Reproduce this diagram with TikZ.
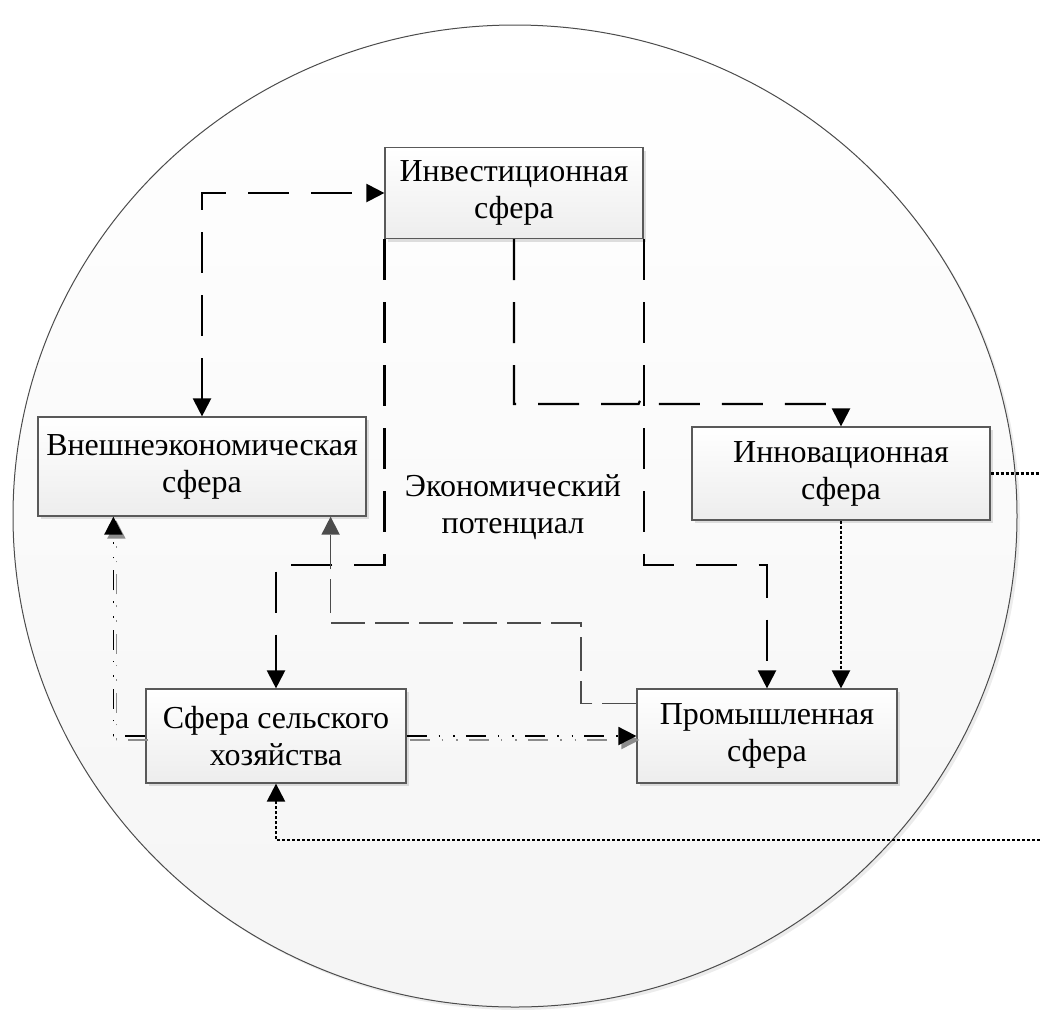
\documentclass[tikz,border=0pt]{standalone}
\usepackage{fontspec}
\setmainfont{Liberation Serif}
\usetikzlibrary{calc,shadows,arrows.meta}

\tikzset{
  >={Triangle[length=9pt,width=9pt]},
  sphere/.style={draw=black!65, line width=0.6pt, top color=white, bottom color=black!7,
    drop shadow={shadow xshift=1.5pt, shadow yshift=-1.5pt, fill=black!25, opacity=.5},
    align=center, inner sep=0pt, font=\fontsize{16}{18.5}\selectfont},
  bigdash/.style={line width=1.1pt, dash pattern=on 20.5pt off 11pt},
  greydash/.style={line width=0.8pt, draw=black!70, dash pattern=on 17pt off 5pt},
  dashdots/.style={line width=0.9pt, dash pattern=on 10pt off 6pt on 0.8pt off 6.5pt on 0.8pt off 5.5pt},
  dashshadow/.style={dashdots, draw=black!45, transform canvas={xshift=1.5pt,yshift=-2pt}},
  dotline/.style={line width=1.1pt, dash pattern=on 1.5pt off 1pt}
}

\begin{document}
\begin{tikzpicture}[x=0.5pt,y=-0.5pt]
    \useasboundingbox (0,0) rectangle (1040,1009);

    % potential
    \draw[draw=black!70, line width=0.5pt, top color=white, bottom color=black!4,
      drop shadow={shadow xshift=1.5pt,shadow yshift=-1.5pt,fill=black!15,opacity=.5}]
      (515,516) ellipse [x radius=251pt, y radius=245.5pt];
    \node[align=center, font=\fontsize{16}{18.5}\selectfont] (econ) at (513,507) {Экономический\\потенциал};

    % spheres
    \node[sphere, minimum width=129pt, minimum height=45.5pt] (invest) at (514,193) {Инвестиционная\\сфера};
    \node[sphere, minimum width=164pt, minimum height=49.5pt] (vnesh) at (202,466.5) {Внешнеэкономическая\\сфера};
    \node[sphere, minimum width=149pt, minimum height=46.5pt] (innov) at (841,473.5) {Инновационная\\сфера};
    \node[sphere, minimum width=130pt, minimum height=47pt] (selsk) at (276,736) {Сфера сельского\\хозяйства};
    \node[sphere, minimum width=130pt, minimum height=47pt] (prom) at (767,736) {Промышленная\\сфера};

    \coordinate (lvlA) at (0,404);
    \coordinate (lvlB) at (0,565);
    \coordinate (bendG) at (581,623);
    \coordinate (edge) at (1040,0);
    \coordinate (outB) at (1040,840);

    % investments
    \draw[bigdash, <->] (vnesh.north) |- (invest.west);
    \draw[bigdash, ->] (invest.south) |- ($(invest.south east |- lvlA)+(-5,0)$)
      arc[start angle=180, end angle=0, radius=2.5pt] -| (innov.north);
    \draw[bigdash, ->] (invest.south west) -- (invest.south west |- lvlB) -| (selsk.north);
    \draw[bigdash, ->] (invest.south east) -- (invest.south east |- lvlB) -| (prom.north);

    % back to foreign trade
    \draw[greydash, -{Triangle[length=9pt,width=9pt,fill=black!70]}]
      ($(prom.north west)+(0,15)$) -| (bendG) -| ($(vnesh.south east)+(-36,0)$);

    % agriculture
    \draw[dashshadow, ->] (selsk.east) -- (prom.west);
    \draw[dashshadow, ->] (selsk.west) -| ($(vnesh.south west)+(76,0)$);
    \draw[dashdots, ->] (selsk.east) -- (prom.west);
    \draw[dashdots, ->] (selsk.west) -| ($(vnesh.south west)+(76,0)$);

    % innovations
    \draw[dotline, ->] (innov.south) -- (innov.south |- prom.north);
    \draw[dotline] (innov.east) -- (innov.east -| edge);
    \draw[dotline, ->] (outB) -| (selsk.south);
\end{tikzpicture}
\end{document}
